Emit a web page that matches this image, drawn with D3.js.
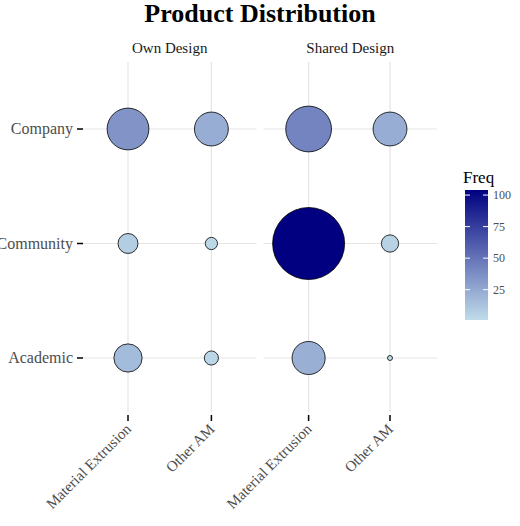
<!DOCTYPE html>
<html><head><meta charset="utf-8">
<script src="https://cdn.jsdelivr.net/npm/d3@7"></script>
<style>body{margin:0;background:#fff}text{font-family:"Liberation Serif",serif}</style>
</head><body><div id="app"></div>
<script>
var facets = ['Own Design', 'Shared Design'];
var techs = ['Material Extrusion', 'Other AM'];
var groups = ['Company', 'Community', 'Academic'];
// Freq per facet, group, tech
var ownFreq = [[35, 23], [8, 3], [16, 4]];
var sharedFreq = [[42, 23], [104, 6], [22, 0.5]];
var legendTicks = [25, 50, 75, 100];

var data = [];
[ownFreq, sharedFreq].forEach(function (m, f) {
  m.forEach(function (row, g) {
    row.forEach(function (v, t) {
      data.push({facet: facets[f], group: groups[g], tech: techs[t], v: v});
    });
  });
});

var svg = d3.select('#app').append('svg').attr('width', 520).attr('height', 526);

svg.append('text').attr('x', 260).attr('y', 22).attr('text-anchor', 'middle')
  .attr('font-size', 26).attr('font-weight', 'bold').text('Product Distribution');

var y = d3.scalePoint().domain(groups).range([129, 358]).padding(0);
var panels = d3.scaleBand().domain(facets).range([83, 437]).paddingInner(0.04);
var r = d3.scaleSqrt().domain([0, 104]).range([0, 36]);
var color = d3.scaleLinear().domain([1, 104]).range(['#c0dcea', '#000080']);

facets.forEach(function (f, i) {
  var x0 = panels(f), w = panels.bandwidth();
  var x = d3.scalePoint().domain(techs).range([x0 + 45, x0 + w - 45 - i * 2]);
  var g = svg.append('g');
  g.append('text').attr('x', x0 + w / 2).attr('y', 53).attr('text-anchor', 'middle')
    .attr('font-size', 15).attr('fill', '#1a1a1a').text(f);
  techs.forEach(function (t) {
    g.append('line').attr('x1', x(t)).attr('x2', x(t)).attr('y1', 62).attr('y2', 412)
      .attr('stroke', '#e5e5e5').attr('stroke-width', 1.2);
  });
  groups.forEach(function (gr) {
    g.append('line').attr('x1', x0).attr('x2', x0 + w).attr('y1', y(gr)).attr('y2', y(gr))
      .attr('stroke', '#e5e5e5').attr('stroke-width', 1.2);
  });
  g.selectAll('circle').data(data.filter(function (d) { return d.facet === f; }))
    .enter().append('circle')
    .attr('cx', function (d) { return x(d.tech); })
    .attr('cy', function (d) { return y(d.group); })
    .attr('r', function (d) { return r(d.v); })
    .attr('fill', function (d) { return color(d.v); })
    .attr('stroke', '#000').attr('stroke-width', 0.8);
  techs.forEach(function (t) {
    g.append('line').attr('x1', x(t)).attr('x2', x(t)).attr('y1', 415).attr('y2', 421)
      .attr('stroke', '#000').attr('stroke-width', 1.5);
    g.append('text').attr('transform', 'translate(' + (x(t) + 4) + ',430) rotate(-45)')
      .attr('text-anchor', 'end').attr('font-size', 15).attr('fill', '#4d4d4d').text(t);
  });
});

// y axis
groups.forEach(function (gr) {
  svg.append('line').attr('x1', 77).attr('x2', 83).attr('y1', y(gr)).attr('y2', y(gr))
    .attr('stroke', '#000').attr('stroke-width', 1.5);
  svg.append('text').attr('x', 73).attr('y', y(gr) + 5).attr('text-anchor', 'end')
    .attr('font-size', 16).attr('fill', '#4d4d4d').text(gr);
});

// legend
var ly = d3.scaleLinear().domain([1, 104]).range([320, 190]);
var defs = svg.append('defs');
var grad = defs.append('linearGradient').attr('id', 'gr').attr('x1', 0).attr('x2', 0).attr('y1', 1).attr('y2', 0);
grad.append('stop').attr('offset', '0%').attr('stop-color', color(1));
grad.append('stop').attr('offset', '100%').attr('stop-color', color(104));
svg.append('text').attr('x', 463).attr('y', 183).attr('font-size', 17).text('Freq');
svg.append('rect').attr('x', 465).attr('y', 190).attr('width', 23).attr('height', 130).attr('fill', 'url(#gr)');
legendTicks.forEach(function (v) {
  svg.append('line').attr('x1', 465).attr('x2', 470).attr('y1', ly(v)).attr('y2', ly(v)).attr('stroke', '#fff');
  svg.append('line').attr('x1', 483).attr('x2', 488).attr('y1', ly(v)).attr('y2', ly(v)).attr('stroke', '#fff');
  svg.append('text').attr('x', 493).attr('y', ly(v) + 4).attr('font-size', 12).attr('fill', '#4d4d4d').text(v);
});
</script></body></html>
